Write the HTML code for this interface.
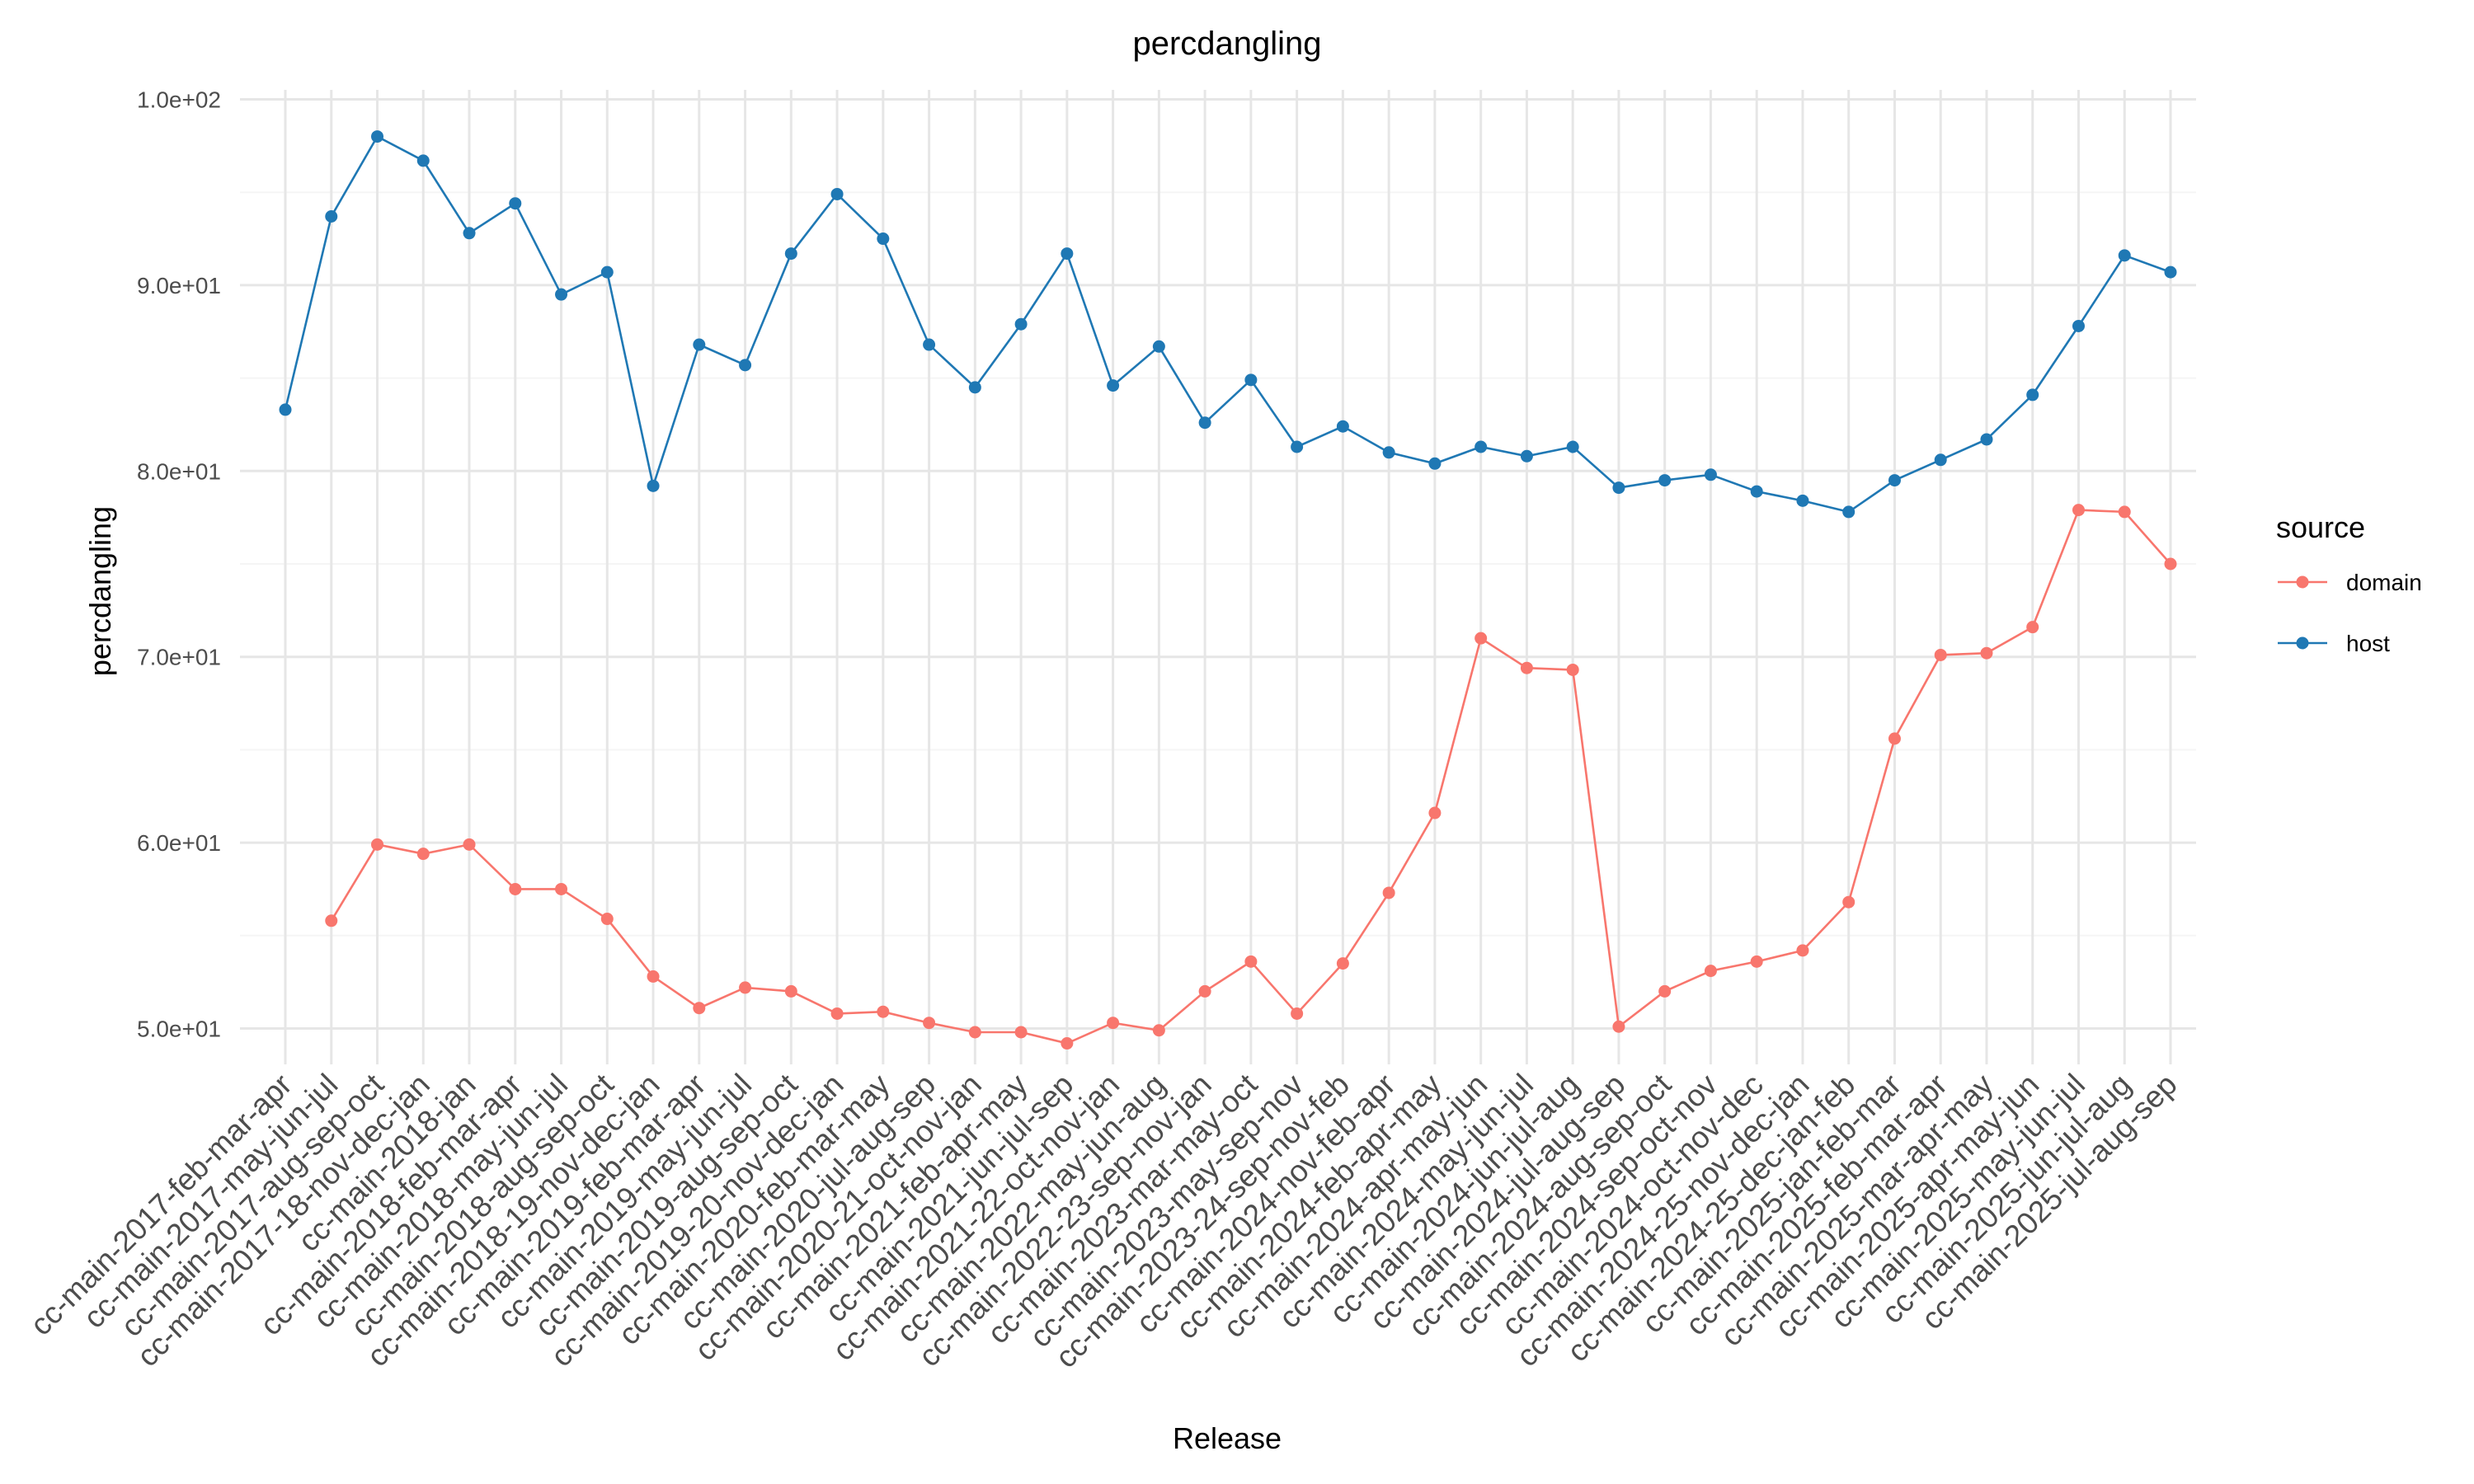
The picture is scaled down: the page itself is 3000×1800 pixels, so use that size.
<!DOCTYPE html>
<html><head><meta charset="utf-8"><style>
html,body{margin:0;padding:0;background:#fff}
svg{display:block;font-family:"Liberation Sans",Arial,sans-serif}
</style></head><body>
<svg id="chart" width="3000" height="1800" viewBox="0 0 3000 1800" xmlns="http://www.w3.org/2000/svg">
<rect width="3000" height="1800" fill="#fff"/>
<g id="grid"></g><g id="series"></g><g id="axes"></g>
<text x="1488" y="66" font-size="40" text-anchor="middle" fill="#000">percdangling</text>
<text transform="translate(134,717) rotate(-90)" font-size="36" text-anchor="middle" fill="#000">percdangling</text>
<text x="1488" y="1757" font-size="36" text-anchor="middle" fill="#000">Release</text>
<g>
<text x="2760" y="652" font-size="36" fill="#000">source</text>
<g>
<line x1="2762" y1="706" x2="2822" y2="706" stroke="#F8766D" stroke-width="2.5"/><circle cx="2792" cy="706" r="7.5" fill="#F8766D"/>
<text x="2845" y="716" font-size="28" fill="#000">domain</text></g>
<g>
<line x1="2762" y1="780" x2="2822" y2="780" stroke="#1F78B4" stroke-width="2.5"/><circle cx="2792" cy="780" r="7.5" fill="#1F78B4"/>
<text x="2845" y="790" font-size="28" fill="#000">host</text></g>
</g>
</svg>
<script>
const categories=["2017-feb-mar-apr","2017-may-jun-jul","2017-aug-sep-oct","2017-18-nov-dec-jan","2018-jan","2018-feb-mar-apr","2018-may-jun-jul","2018-aug-sep-oct","2018-19-nov-dec-jan","2019-feb-mar-apr","2019-may-jun-jul","2019-aug-sep-oct","2019-20-nov-dec-jan","2020-feb-mar-may","2020-jul-aug-sep","2020-21-oct-nov-jan","2021-feb-apr-may","2021-jun-jul-sep","2021-22-oct-nov-jan","2022-may-jun-aug","2022-23-sep-nov-jan","2023-mar-may-oct","2023-may-sep-nov","2023-24-sep-nov-feb","2024-nov-feb-apr","2024-feb-apr-may","2024-apr-may-jun","2024-may-jun-jul","2024-jun-jul-aug","2024-jul-aug-sep","2024-aug-sep-oct","2024-sep-oct-nov","2024-oct-nov-dec","2024-25-nov-dec-jan","2024-25-dec-jan-feb","2025-jan-feb-mar","2025-feb-mar-apr","2025-mar-apr-may","2025-apr-may-jun","2025-may-jun-jul","2025-jun-jul-aug","2025-jul-aug-sep"];
const hostValues=[83.3,93.7,98.0,96.7,92.8,94.4,89.5,90.7,79.2,86.8,85.7,91.7,94.9,92.5,86.8,84.5,87.9,91.7,84.6,86.7,82.6,84.9,81.3,82.4,81.0,80.4,81.3,80.8,81.3,79.1,79.5,79.8,78.9,78.4,77.8,79.5,80.6,81.7,84.1,87.8,91.6,90.7];
const domainValues=[null,55.8,59.9,59.4,59.9,57.5,57.5,55.9,52.8,51.1,52.2,52.0,50.8,50.9,50.3,49.8,49.8,49.2,50.3,49.9,52.0,53.6,50.8,53.5,57.3,61.6,71.0,69.4,69.3,50.1,52.0,53.1,53.6,54.2,56.8,65.6,70.1,70.2,71.6,77.9,77.8,75.0];
const yTicks=[50,60,70,80,90,100];
const yTickLabels=["5.0e+01","6.0e+01","7.0e+01","8.0e+01","9.0e+01","1.0e+02"];
const NS="http://www.w3.org/2000/svg";
const L=291,R=2663,T=109,B=1291;
function xs(i){return 346+i*(2632-346)/(categories.length-1);}
function ys(v){return 120.5+(100-v)*22.54;}
function mk(tag,attrs,parent){const e=document.createElementNS(NS,tag);for(const k in attrs)e.setAttribute(k,attrs[k]);parent.appendChild(e);return e;}
const grid=document.getElementById('grid'),axes=document.getElementById('axes'),ser=document.getElementById('series');
for(let k=0;k<yTicks.length-1;k++){const v=(yTicks[k]+yTicks[k+1])/2;
 const l=mk('line',{x1:L,x2:R,y1:ys(v),y2:ys(v),stroke:'#f5f5f5','stroke-width':2},grid);
 
 }
yTicks.forEach((v,k)=>{
 const l=mk('line',{x1:L,x2:R,y1:ys(v),y2:ys(v),stroke:'#e6e6e6','stroke-width':3},grid);
 
 
 const t=mk('text',{x:268,y:ys(v)+10,'font-size':28,'text-anchor':'end',fill:'#4d4d4d'},axes);
 t.textContent=yTickLabels[k];
 
 
});
categories.forEach((c,i)=>{
 const l=mk('line',{x1:xs(i),x2:xs(i),y1:T,y2:B,stroke:'#e6e6e6','stroke-width':3},grid);
 
 
 const t=mk('text',{transform:`translate(${xs(i)+10},${1318}) rotate(-45)`,'font-size':37,'text-anchor':'end',fill:'#4d4d4d'},axes);
 t.textContent='cc-main-'+c;
 
 
});
function drawSeries(vals,color,name){
 let d='';let pen=false;
 vals.forEach((v,i)=>{if(v==null){pen=false;return;}d+=(pen?'L':'M')+xs(i)+' '+ys(v)+' ';pen=true;});
 const p=mk('path',{d:d,fill:'none',stroke:color,'stroke-width':2.6},ser);
 
 
 vals.forEach((v,i)=>{if(v==null)return;
  const c=mk('circle',{cx:xs(i),cy:ys(v),r:7.5,fill:color},ser);
  
  });
}
drawSeries(domainValues,'#F8766D','domain');
drawSeries(hostValues,'#1F78B4','host');
</script>
</body></html>
